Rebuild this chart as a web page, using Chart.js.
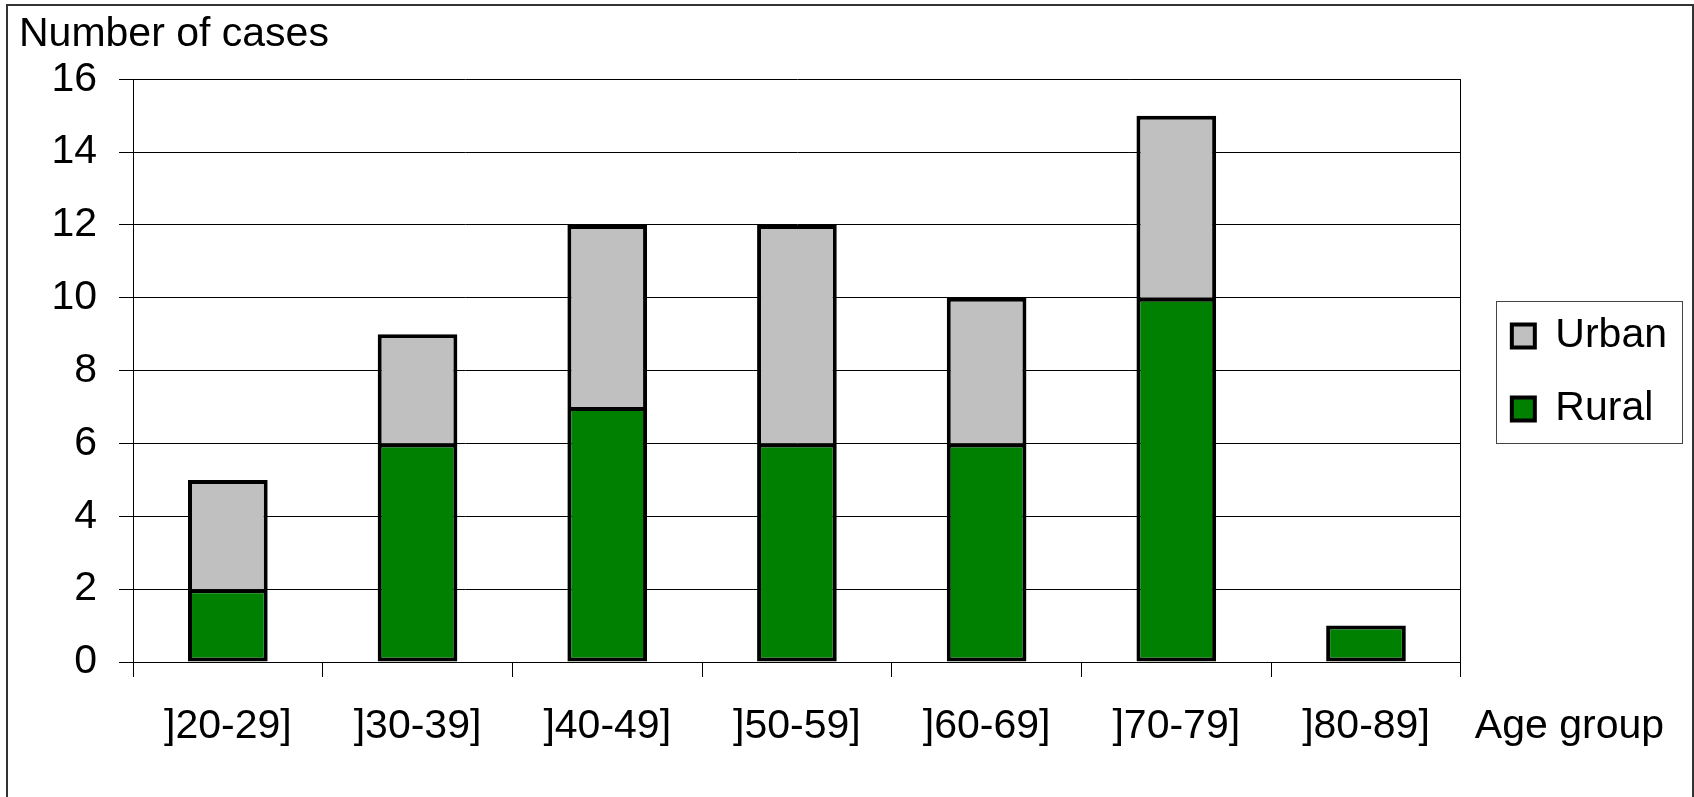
<!DOCTYPE html>
<html>
<head>
  <script src="https://cdn.jsdelivr.net/npm/chart.js"></script>
  <style>
    html, body { margin: 0; padding: 0; overflow: hidden; background: #fff; }
    #wrap { position: relative; width: 1694px; height: 797px; }
    #frame { position: absolute; left: 6px; top: 4px; width: 1684px; height: 830px; border: 2px solid #333; pointer-events: none; }
  </style>
</head>
<body>
  <div id="wrap">
    <canvas id="barChart" width="1694" height="797" style="width:1694px;height:797px"></canvas>
    <div id="frame"></div>
  </div>
  <script>
    // data
    const ageGroups = [']20-29]', ']30-39]', ']40-49]', ']50-59]', ']60-69]', ']70-79]', ']80-89]'];
    const rural = [2, 6, 7, 6, 6, 10, 1];
    const urban = [3, 3, 5, 6, 4, 5, 0];
    const seriesNames = ['Rural', 'Urban'];
    const yAxisTitle = 'Number of cases';
    const xAxisTitle = 'Age group';
    const yMin = 0, yMax = 16, yStep = 2;

    const font = { family: "'Liberation Sans', Arial, sans-serif", size: 41, weight: 'normal' };

    // axis title at the right of the x labels + box round the legend
    const extras = {
      id: 'extras',
      afterLayout(chart) {
        // legend sits further right and a bit higher in the original
        chart.legend.left += 19;
        chart.legend.right += 19;
        chart.legend.top -= 26;
        chart.legend.bottom -= 26;
      },
      afterDraw(chart) {
        const ctx = chart.ctx;
        const area = chart.chartArea;
        ctx.save();
        ctx.font = font.size + 'px ' + font.family;
        ctx.fillStyle = '#000';
        ctx.textBaseline = 'middle';
        ctx.textAlign = 'left';
        ctx.fillText(xAxisTitle, area.right + 14, area.bottom + 65);

        const hb = chart.legend.legendHitBoxes;
        if (hb && hb.length) {
          const x0 = Math.min(...hb.map(h => h.left)) - 16;
          const y0 = Math.min(...hb.map(h => h.top)) - 15;
          const y1 = Math.max(...hb.map(h => h.top + h.height)) + 13;
          ctx.strokeStyle = '#444';
          ctx.lineWidth = 1;
          ctx.strokeRect(Math.round(x0) + 0.5, Math.round(y0) + 0.5, 186, Math.round(y1 - y0));
        }
        ctx.restore();
      }
    };

    const ctx = document.getElementById('barChart').getContext('2d');
    const myChart = new Chart(ctx, {
      type: 'bar',
      data: {
        labels: ageGroups,
        datasets: [{
          label: seriesNames[0],
          data: rural,
          backgroundColor: '#008000',
          borderColor: '#000',
          borderWidth: 4,
          borderSkipped: false,
          barPercentage: 0.42,
          categoryPercentage: 1
        }, {
          label: seriesNames[1],
          data: urban,
          backgroundColor: '#C0C0C0',
          borderColor: '#000',
          borderWidth: 4,
          borderSkipped: 'bottom',
          barPercentage: 0.42,
          categoryPercentage: 1
        }]
      },
      options: {
        responsive: false,
        animation: false,
        layout: { padding: { left: 19, top: 0, right: 36, bottom: 0 } },
        plugins: {
          title: {
            display: true,
            text: yAxisTitle,
            align: 'start',
            color: '#000',
            font: font,
            padding: { top: 10, bottom: 20 }
          },
          legend: {
            position: 'right',
            reverse: true,
            labels: { boxWidth: 23, boxHeight: 23, padding: 32, color: '#000', font: font }
          },
          tooltip: { enabled: false }
        },
        scales: {
          x: {
            stacked: true,
            ticks: { color: '#000', font: font, padding: 25, maxRotation: 0, autoSkip: false },
            grid: {
              // only the right edge line, plus tick marks at each boundary
              color: c => c.index === undefined ? '#000' : 'transparent',
              tickColor: '#000',
              tickLength: 15
            },
            border: { color: '#000' },
            afterFit(s) { s.height = 135; }
          },
          y: {
            stacked: true,
            min: yMin,
            max: yMax,
            ticks: { stepSize: yStep, color: '#000', font: font, padding: 22 },
            grid: { color: '#000', tickColor: '#000', tickLength: 14 },
            border: { color: '#000' },
            afterFit(s) { s.width = 114; }
          }
        }
      },
      plugins: [extras]
    });
  </script>
</body>
</html>
